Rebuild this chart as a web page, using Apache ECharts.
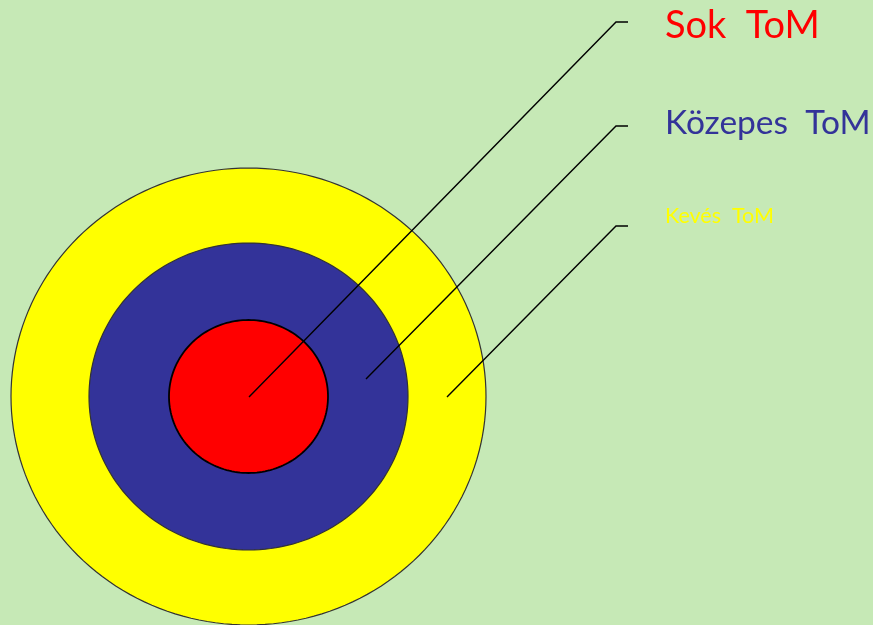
<!DOCTYPE html>
<html>
<head>
<meta charset="utf-8">
<script src="https://cdn.jsdelivr.net/npm/echarts@6/dist/echarts.min.js"></script>
<style>
  html, body { margin: 0; padding: 0; background: #c6e9b6; }
  #chart { width: 873px; height: 625px; }
</style>
</head>
<body>
<div id="chart"></div>
<script>
// rings, outer to inner (data units = canvas pixels)
var ringNames = ["Kevés  ToM", "Közepes  ToM", "Sok  ToM"];
var ringColors = ["#ffff00", "#333399", "#ff0000"];
var ringRx = [237.5, 159.5, 79.5];
var ringRy = [228.5, 153.5, 76.5];
var ringCenter = [248.5, 396.5];

// leader lines: start point inside the ring, elbow, end of short tick
var leaderStart = [[447, 397], [366, 379], [249, 397]];
var leaderElbow = [[616, 226], [616, 126], [616, 22]];
var leaderEndX = [628, 628, 628];

// labels
var labelPos = [[665, 216], [665, 123], [665, 26]];
var labelSize = [21.5, 33.5, 38];

var chart = echarts.init(document.getElementById("chart"));

function ellipsePoints(api, cx, cy, rx, ry) {
  var pts = [];
  for (var i = 0; i < 180; i++) {
    var t = (i / 180) * Math.PI * 2;
    pts.push(api.coord([cx + rx * Math.cos(t), cy + ry * Math.sin(t)]));
  }
  return pts;
}

var ringData = ringNames.map(function (n, i) {
  return [ringCenter[0], ringCenter[1], ringRx[i], ringRy[i], i];
});
var leaderData = ringNames.map(function (n, i) {
  return [leaderStart[i][0], leaderStart[i][1], leaderElbow[i][0], leaderElbow[i][1], leaderEndX[i], i];
});
var labelData = ringNames.map(function (n, i) {
  return [labelPos[i][0], labelPos[i][1], i];
});

chart.setOption({
  backgroundColor: "#c6e9b6",
  animation: false,
  grid: { left: 0, right: 0, top: 0, bottom: 0 },
  xAxis: { type: "value", min: 0, max: 873, show: false },
  yAxis: { type: "value", min: 0, max: 625, inverse: true, show: false },
  series: [
    {
      type: "custom",
      data: ringData,
      renderItem: function (params, api) {
        var i = api.value(4);
        return {
          type: "polygon",
          shape: { points: ellipsePoints(api, api.value(0), api.value(1), api.value(2), api.value(3)) },
          style: {
            fill: ringColors[i],
            stroke: i === 2 ? "#000" : "#333",
            lineWidth: i === 2 ? 1.8 : 1.2
          }
        };
      }
    },
    {
      type: "custom",
      data: leaderData,
      z: 5,
      renderItem: function (params, api) {
        var a = api.coord([api.value(0), api.value(1)]);
        var b = api.coord([api.value(2), api.value(3)]);
        var c = api.coord([api.value(4), api.value(3)]);
        return {
          type: "polyline",
          shape: { points: [a, b, c] },
          style: { stroke: "#000", lineWidth: 1.4, fill: null }
        };
      }
    },
    {
      type: "custom",
      data: labelData,
      z: 6,
      renderItem: function (params, api) {
        var i = api.value(2);
        var p = api.coord([api.value(0), api.value(1)]);
        return {
          type: "text",
          x: p[0],
          y: p[1],
          style: {
            text: ringNames[i],
            fill: ringColors[i],
            font: labelSize[i] + "px Lato",
            textAlign: "left",
            textVerticalAlign: "middle"
          }
        };
      }
    }
  ]
});
</script>
</body>
</html>
